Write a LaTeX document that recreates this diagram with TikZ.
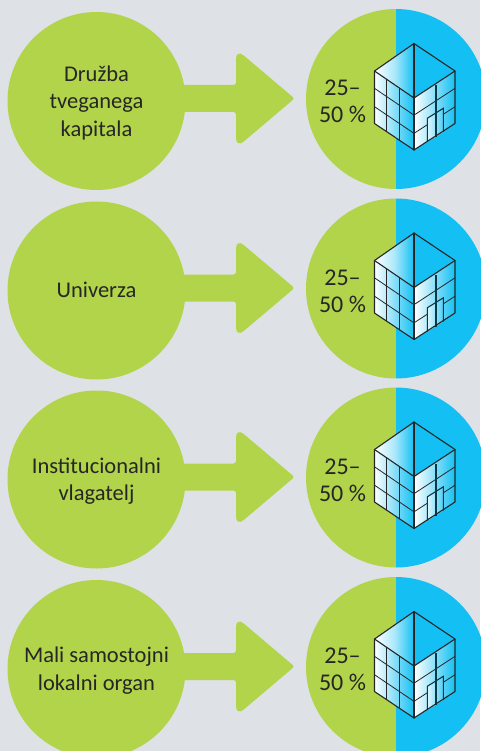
\documentclass[tikz,border=0pt]{standalone}
\usepackage{fontspec}
\setmainfont{Carlito}
\usepackage{tikz}
\usetikzlibrary{calc}

\definecolor{pagegrey}{RGB}{222,225,230}
\definecolor{lime}{RGB}{178,212,74}
\definecolor{skyblue}{RGB}{20,192,243}
\definecolor{inkgrey}{RGB}{38,38,38}

\tikzset{
  disc/.style={circle,fill=lime,minimum size=178pt,inner sep=0pt},
  caption/.style={align=center,text=inkgrey,font=\fontsize{22.5}{27.5}\selectfont},
  share/.style={align=center,text=inkgrey,font=\fontsize{24}{27}\selectfont},
  edge/.style={draw=inkgrey,line width=1.1pt,line join=round,line cap=round},
  fine/.style={draw=inkgrey,line width=0.8pt},
  dim/.style={draw=black!70!skyblue,line width=1.1pt},
}

% one row: #1 shifts the text, #2 is the height of its middle, #3 the name, #4 the text
\newcommand{\rowfigure}[4][-3.8]{
  \begin{scope}[shift={(0,#2)}]
  \node[disc] (#3) at (96.5,-2) {};
  \node[caption] (#3n) at (96.5,#1) {#4};
  % arrow
  \fill[lime,rounded corners=2.5pt] (180,14) -- (236,14) [rounded corners=10pt] -- (236,50) [rounded corners=2.5pt] -- (294.5,0.5) [rounded corners=10pt] -- (236,-49) [rounded corners=2.5pt] -- (236,-13) -- (180,-13) -- cycle;
  % right disc, half and half
  \coordinate (#3c) at (396,0);
  \fill[lime] (396,-90) arc[start angle=-90,end angle=-270,radius=90] -- cycle;
  \fill[skyblue] (396,-90) arc[start angle=-90,end angle=90,radius=90] -- cycle;
  \node[share] (#3s) at (342.5,-2.5) {25–\\50 \%};
  % building, top
  \coordinate (#3t) at (414,55.5);
  \coordinate (#3l) at (374.5,28);
  \coordinate (#3r) at (455,28);
  \coordinate (#3m) at (414,1);
  \coordinate (#3bl) at (374.5,-24.5);
  \coordinate (#3br) at (455,-24.5);
  \coordinate (#3b) at (414,-51);
  \shade[left color=white,right color=skyblue,middle color=skyblue!35] (#3l) -- (#3t) -- (#3m) -- cycle;
  \fill[skyblue] (#3t) -- (#3r) -- (#3m) -- cycle;
  \shade[left color=white,right color=skyblue] (#3l) -- (#3m) -- (#3b) -- (#3bl) -- cycle;
  \shade[left color=white,right color=skyblue] (#3m) -- (#3r) -- (#3br) -- (#3b) -- cycle;
  % floors on the left face
  \draw[fine] ($(#3l)!0.33!(#3bl)$) -- ($(#3m)!0.33!(#3b)$);
  \draw[fine] ($(#3l)!0.68!(#3bl)$) -- ($(#3m)!0.68!(#3b)$);
  \draw[fine] ($(#3l)!0.31!(#3m)$) -- ($(#3bl)!0.31!(#3b)$);
  \draw[fine] ($(#3l)!0.63!(#3m)$) -- ($(#3bl)!0.63!(#3b)$);
  % floors on the right face
  \draw[fine] ($(#3m)!0.33!(#3b)$) -- ($(#3r)!0.33!(#3br)$);
  \draw[fine] ($(#3m)!0.68!(#3b)$) -- ($(#3r)!0.68!(#3br)$);
  % door
  \shade[left color=skyblue!15,right color=skyblue!75] (427.3,-43) -- (427.3,-19.3) -- (443.3,-9.3) -- (443.3,-33) -- cycle;
  \draw[dim] (436,14) -- (436,-38);
  \draw[dim] (427.3,-43) -- (427.3,-19.3) -- (443.3,-9.3) -- (443.3,-33);
  % outline
  \draw[edge] (#3t) -- (#3r) -- (#3br) -- (#3b) -- (#3bl) -- (#3l) -- cycle;
  \draw[edge] (#3l) -- (#3m) -- (#3r);
  \draw[edge] (#3t) -- (#3m) -- (#3b);
  \end{scope}
}

\begin{document}
\begin{tikzpicture}[x=1pt,y=1pt]
\useasboundingbox (0,-751) rectangle (480,0);
\fill[pagegrey] (0,-751) rectangle (480,0);

\rowfigure{-99}{venture}{Družba\\tveganega\\kapitala}
\rowfigure[-1]{-288.5}{university}{Univerza}
\rowfigure{-477.5}{investor}{Institucionalni\\vlagatelj}
\rowfigure{-667}{authority}{Mali samostojni\\lokalni organ}

\end{tikzpicture}
\end{document}
